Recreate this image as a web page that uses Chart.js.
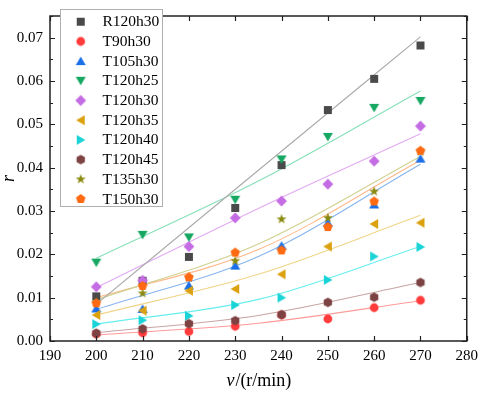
<!DOCTYPE html>
<html><head><meta charset="utf-8">
<script src="https://cdn.jsdelivr.net/npm/chart.js@4"></script>
<style>html,body{margin:0;padding:0;background:#fff}#wrap{width:484px;height:393px}</style>
</head><body><div id="wrap"><canvas id="c" width="484" height="393"></canvas></div>
<script>
const speeds = [200,210,220,230,240,250,260,270];
const seriesNames = ['R120h30','T90h30','T105h30','T120h25','T120h30','T120h35','T120h40','T120h45','T135h30','T150h30'];
const R120h30 = [0.0103,0.0139,0.0194,0.0307,0.0406,0.0533,0.0605,0.0682];
const T90h30  = [0.0016,0.0019,0.0022,0.0034,0.0060,0.0051,0.0077,0.0094];
const T105h30 = [0.0075,0.0074,0.0128,0.0174,0.0220,0.0273,0.0315,0.0421];
const T120h25 = [0.0181,0.0245,0.0239,0.0326,0.0419,0.0471,0.0538,0.0554];
const T120h30 = [0.0125,0.0140,0.0218,0.0284,0.0323,0.0362,0.0415,0.0496];
const T120h35 = [0.0060,0.0070,0.0116,0.0120,0.0154,0.0218,0.0270,0.0273];
const T120h40 = [0.0039,0.0048,0.0058,0.0083,0.0100,0.0141,0.0195,0.0217];
const T120h45 = [0.0018,0.0028,0.0040,0.0047,0.0061,0.0089,0.0101,0.0135];
const T135h30 = [0.0089,0.0110,0.0146,0.0185,0.0281,0.0284,0.0345,0.0437];
const T150h30 = [0.0087,0.0127,0.0147,0.0204,0.0209,0.0263,0.0322,0.0439];
// fitted trend lines at these speeds
const fitSpeeds = [200,235,270];
const fitR120h30 = [0.0085,0.0394,0.0702];
const fitT90h30  = [0.0014,0.0041,0.0093];
const fitT105h30 = [0.0073,0.0195,0.0408];
const fitT120h25 = [0.0191,0.0369,0.0577];
const fitT120h30 = [0.0123,0.0306,0.0478];
const fitT120h35 = [0.0060,0.0154,0.0290];
const fitT120h40 = [0.0039,0.0096,0.0218];
const fitT120h45 = [0.0019,0.0059,0.0135];
const fitT135h30 = [0.0095,0.0224,0.0426];
const fitT150h30 = [0.0100,0.0211,0.0417];
const xTickLabels = [190,200,210,220,230,240,250,260,270,280];
const yTickLabels = [0,0.01,0.02,0.03,0.04,0.05,0.06,0.07];

const values = [R120h30,T90h30,T105h30,T120h25,T120h30,T120h35,T120h40,T120h45,T135h30,T150h30];
const fits = [fitR120h30,fitT90h30,fitT105h30,fitT120h25,fitT120h30,fitT120h35,fitT120h40,fitT120h45,fitT135h30,fitT150h30];
const markerColors = ['#4a4a4a','#ff3b3b','#1a6ee8','#16a862','#c46ce3','#dba10f','#1ad3d6','#7d4242','#8b8a10','#ff6a13'];
const lineColors = ['#aaaaaa','#ff9a9a','#86b4f0','#86e0b8','#e2aaf2','#f0d488','#66eef0','#c8a4a4','#d0d08e','#ffb88a'];
const shapes = ['square','circle','up','down','diamond','left','right','hex','star','pentagon'];

function marker(shape,color){
  const S=14,c=document.createElement('canvas');c.width=S;c.height=S;
  const g=c.getContext('2d');g.fillStyle=color;g.translate(S/2,S/2);g.beginPath();
  const poly=(n,r,rot)=>{for(let i=0;i<n;i++){const a=rot+i*2*Math.PI/n;const px=r*Math.cos(a),py=r*Math.sin(a);i?g.lineTo(px,py):g.moveTo(px,py);}};
  switch(shape){
    case 'square':g.rect(-4,-4,8,8);break;
    case 'circle':g.arc(0,0,4.4,0,2*Math.PI);break;
    case 'up':g.moveTo(0,-4.6);g.lineTo(5,4);g.lineTo(-5,4);break;
    case 'down':g.moveTo(0,4.6);g.lineTo(5,-4);g.lineTo(-5,-4);break;
    case 'left':g.moveTo(-4.6,0);g.lineTo(4,-5);g.lineTo(4,5);break;
    case 'right':g.moveTo(4.6,0);g.lineTo(-4,-5);g.lineTo(-4,5);break;
    case 'diamond':poly(4,5.4,-Math.PI/2);break;
    case 'hex':poly(6,4.8,-Math.PI/2);break;
    case 'pentagon':poly(5,5,-Math.PI/2);break;
    case 'star':for(let i=0;i<10;i++){const r=i%2?2.1:5.2;const a=-Math.PI/2+i*Math.PI/5;const px=r*Math.cos(a),py=r*Math.sin(a);i?g.lineTo(px,py):g.moveTo(px,py);}break;
  }
  g.closePath();g.fill();return c;
}
const markers = shapes.map((s,i)=>marker(s,markerColors[i]));

const datasets=[];
fits.forEach((f,i)=>{
  datasets.push({type:'line',label:'fit '+seriesNames[i],data:fitSpeeds.map((v,k)=>({x:v,y:f[k]})),
    borderColor:lineColors[i],borderWidth:1.1,pointRadius:0,fill:false,cubicInterpolationMode:'monotone',order:100});
});
values.forEach((arr,i)=>{
  datasets.push({type:'scatter',label:seriesNames[i],data:speeds.map((v,k)=>({x:v,y:arr[k]})),
    pointStyle:markers[i],pointRadius:5,showLine:false,order:20-i});
});

const SERIF='"Liberation Serif","Times New Roman",serif';
const frame={id:'frame',afterDraw(ch){
  const g=ch.ctx,a=ch.chartArea,x=ch.scales.x,y=ch.scales.y;
  g.save();g.strokeStyle='#222';g.lineWidth=1.5;
  g.strokeRect(a.left,a.top,a.right-a.left,a.bottom-a.top);
  g.lineWidth=1.2;g.beginPath();
  xTickLabels.forEach(v=>{const px=Math.round(x.getPixelForValue(v))+0.5;
    g.moveTo(px,a.bottom);g.lineTo(px,a.bottom-5);g.moveTo(px,a.top);g.lineTo(px,a.top+5);});
  yTickLabels.forEach(v=>{const py=Math.round(y.getPixelForValue(v))+0.5;
    g.moveTo(a.left,py);g.lineTo(a.left+5,py);g.moveTo(a.right,py);g.lineTo(a.right-5,py);
    const pm=Math.round(y.getPixelForValue(v+0.005))+0.5;
    g.moveTo(a.left,pm);g.lineTo(a.left+3,pm);g.moveTo(a.right,pm);g.lineTo(a.right-3,pm);});
  g.stroke();
  // axis titles
  g.fillStyle='#000';g.textBaseline='middle';
  const cx=(a.left+a.right)/2;
  g.font='italic 18px '+SERIF;const w1=g.measureText('v').width;
  g.font='18px '+SERIF;const w2=g.measureText('/(r/min)').width;
  let sx=cx-(w1+w2)/2;g.textAlign='left';
  g.font='italic 18px '+SERIF;g.fillText('v',sx,381);
  g.font='18px '+SERIF;g.fillText('/(r/min)',sx+w1+1,381);
  g.save();g.translate(9,(a.top+a.bottom)/2);g.rotate(-Math.PI/2);g.textAlign='center';
  g.font='italic 18px '+SERIF;g.fillText('r',0,0);g.restore();
  // legend
  const L=60.5,T=9.5,W=102,H=197;
  g.fillStyle='#fff';g.fillRect(L,T,W,H);
  g.strokeStyle='#b0b0b0';g.lineWidth=1;g.strokeRect(L,T,W,H);
  g.font='15.5px '+SERIF;g.fillStyle='#000';g.textAlign='left';
  seriesNames.forEach((n,i)=>{const yy=21.7+i*19.7;
    g.drawImage(markers[i],80.7-7,yy-7);g.fillText(n,102.5,yy+0.5);});
  g.restore();
}};

new Chart(document.getElementById('c'),{
  type:'scatter',data:{datasets},
  options:{responsive:false,animation:false,devicePixelRatio:1,
    layout:{padding:{left:0,right:13,top:2,bottom:0}},
    plugins:{legend:{display:false},tooltip:{enabled:false}},
    scales:{
      x:{type:'linear',min:190,max:280,
        grid:{display:false,drawTicks:false},border:{display:false},
        ticks:{color:'#000',font:{family:SERIF,size:15},padding:6,maxRotation:0},
        afterBuildTicks:s=>{s.ticks=xTickLabels.map(v=>({value:v}));},
        afterFit:s=>{s.height=52;}},
      y:{type:'linear',min:0,max:0.075,
        grid:{display:false,drawTicks:false},border:{display:false},
        ticks:{color:'#000',font:{family:SERIF,size:15},padding:7,callback:v=>v.toFixed(2)},
        afterBuildTicks:s=>{s.ticks=yTickLabels.map(v=>({value:v}));},
        afterFit:s=>{s.width=50;}}
    }},
  plugins:[frame]
});
</script></body></html>
